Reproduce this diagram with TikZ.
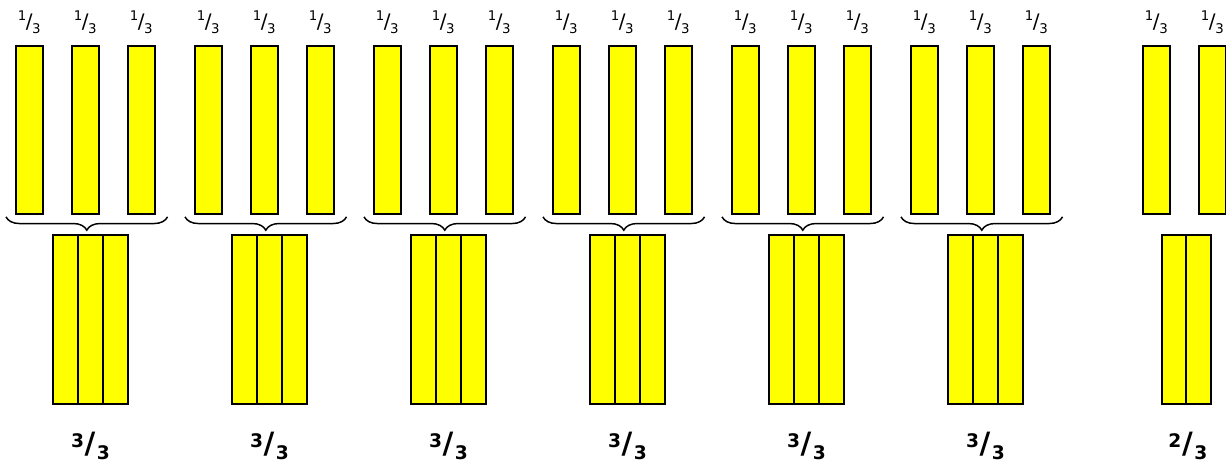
\documentclass[tikz,border=0pt]{standalone}
\usepackage{fontspec}
\setmainfont{DejaVu Sans}
\usetikzlibrary{decorations.pathreplacing,calc}

\definecolor{barfill}{RGB}{255,255,0}
\newcommand{\frc}[2]{\raisebox{0.38em}{\fontsize{10}{10}\selectfont #1}\kern-0.02em/\kern-0.02em\raisebox{-0.28em}{\fontsize{10}{10}\selectfont #2}}
\newcommand{\bfrc}[2]{\raisebox{0.40em}{\fontsize{14}{14}\selectfont #1}\kern0.05em\fontsize{22}{22}\selectfont/\kern0.05em\raisebox{-0.22em}{\fontsize{14}{14}\selectfont #2}}

\tikzset{
  bar/.style={draw, line width=1.4pt, fill=barfill, anchor=north west, inner sep=0pt,
    minimum width=20pt, minimum height=126pt},
  strip/.style={draw, line width=1.4pt, fill=barfill, anchor=north west, inner sep=0pt,
    minimum width=18.75pt, minimum height=126.5pt},
  small/.style={font=\fontsize{15}{15}\selectfont, inner sep=0pt},
  big/.style={font=\bfseries, inner sep=0pt},
  brace/.style={decorate, line width=1.1pt, decoration={brace, mirror, amplitude=10pt}}
}

\begin{document}
\begin{tikzpicture}[x=0.75pt,y=-0.75pt]
  \useasboundingbox (0,0) rectangle (1226,464);
  % six whole groups
  \foreach \g in {0,...,5}{
    \pgfmathsetmacro{\xo}{15+179*\g}
    \foreach \i in {1,2,3}{
      \node[bar] (b-\g-\i) at ({\xo+56*(\i-1)},45) {};
      \node[small, yshift=17pt] (t-\g-\i) at (b-\g-\i.north) {\frc{1}{3}};
      \node[strip] (s-\g-\i) at ({\xo+37+25*(\i-1)},234) {};
    }
    \coordinate (bl-\g) at ($(b-\g-1.south west)+(-9,2)$);
    \coordinate (br-\g) at ($(b-\g-3.south east)+(12,2)$);
    \draw[brace] (bl-\g) -- (br-\g);
    \node[big, yshift=-31pt] (f-\g) at (s-\g-2.south) {\bfrc{3}{3}};
  }
  % the last two thirds
  \foreach \i in {1,2}{
    \node[bar] (b-6-\i) at ({1142+56*(\i-1)},45) {};
    \node[small, yshift=17pt] (t-6-\i) at (b-6-\i.north) {\frc{1}{3}};
    \node[strip] (s-6-\i) at ({1161+24*(\i-1)},234) {};
  }
  \node[big, yshift=-31pt] (f-6) at (s-6-1.south east) {\bfrc{2}{3}};
\end{tikzpicture}
\end{document}
